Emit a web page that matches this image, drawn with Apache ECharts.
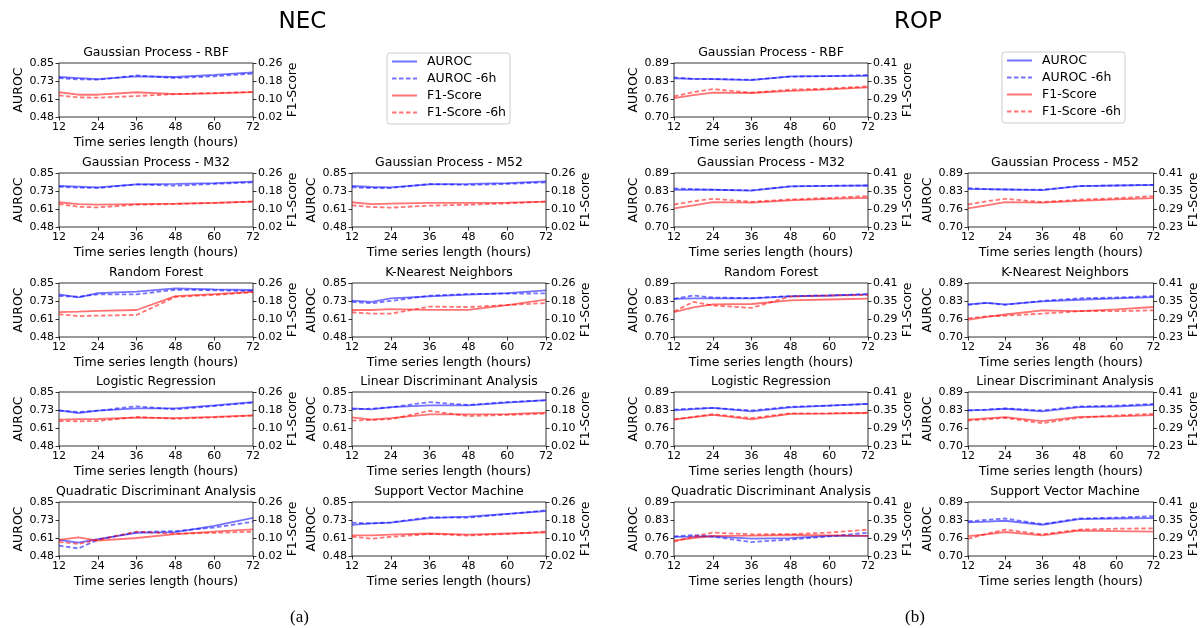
<!DOCTYPE html>
<html>
<head>
<meta charset="utf-8">
<script src="https://cdn.jsdelivr.net/npm/echarts@6/dist/echarts.min.js"></script>
<style>
  html, body { margin: 0; padding: 0; background: #fff; }
  #chart { width: 1201px; height: 628px; }
</style>
</head>
<body>
<div id="chart"></div>
<script>
// x values (hours) shared by every subplot
const hours = [12, 18, 24, 36, 48, 60, 72];

const models = [
  'Gaussian Process - RBF', 'Gaussian Process - M32', 'Gaussian Process - M52',
  'Random Forest', 'K-Nearest Neighbors', 'Logistic Regression',
  'Linear Discriminant Analysis', 'Quadratic Discriminant Analysis', 'Support Vector Machine'
];

const legendNames = ['AUROC', 'AUROC -6h', 'F1-Score', 'F1-Score -6h'];

// tick labels
const necAurocTicks = ['0.48', '0.61', '0.73', '0.85'];
const necF1Ticks = ['0.02', '0.10', '0.18', '0.26'];
const ropAurocTicks = ['0.70', '0.76', '0.83', '0.89'];
const ropF1Ticks = ['0.23', '0.29', '0.35', '0.41'];
const hourTicks = [12, 24, 36, 48, 60, 72];

// NEC, one row per model
const necAuroc = [
  [0.754, 0.747, 0.740, 0.759, 0.754, 0.768, 0.786],
  [0.761, 0.757, 0.752, 0.772, 0.775, 0.781, 0.791],
  [0.761, 0.754, 0.752, 0.772, 0.775, 0.781, 0.793],
  [0.772, 0.752, 0.781, 0.791, 0.813, 0.807, 0.802],
  [0.729, 0.720, 0.745, 0.759, 0.770, 0.781, 0.800],
  [0.724, 0.706, 0.722, 0.738, 0.738, 0.759, 0.781],
  [0.738, 0.731, 0.747, 0.759, 0.759, 0.777, 0.795],
  [0.591, 0.572, 0.596, 0.639, 0.644, 0.686, 0.741],
  [0.693, 0.703, 0.708, 0.739, 0.750, 0.769, 0.788]
];
const necAuroc6h = [
  [0.747, 0.738, 0.736, 0.765, 0.747, 0.759, 0.777],
  [0.756, 0.750, 0.747, 0.772, 0.763, 0.775, 0.786],
  [0.752, 0.747, 0.747, 0.775, 0.768, 0.775, 0.786],
  [0.761, 0.756, 0.772, 0.772, 0.804, 0.800, 0.795],
  [0.720, 0.711, 0.727, 0.763, 0.775, 0.777, 0.779],
  [0.722, 0.713, 0.722, 0.752, 0.731, 0.754, 0.777],
  [0.731, 0.736, 0.745, 0.781, 0.761, 0.781, 0.793],
  [0.551, 0.532, 0.591, 0.644, 0.651, 0.675, 0.715],
  [0.708, 0.703, 0.710, 0.746, 0.743, 0.767, 0.793]
];
const necF1 = [
  [0.130, 0.119, 0.119, 0.130, 0.122, 0.125, 0.131],
  [0.130, 0.122, 0.119, 0.122, 0.124, 0.127, 0.133],
  [0.130, 0.122, 0.124, 0.127, 0.127, 0.128, 0.133],
  [0.131, 0.133, 0.136, 0.140, 0.202, 0.211, 0.221],
  [0.140, 0.140, 0.144, 0.141, 0.141, 0.162, 0.186],
  [0.137, 0.139, 0.140, 0.146, 0.144, 0.149, 0.156],
  [0.147, 0.137, 0.144, 0.161, 0.161, 0.162, 0.168],
  [0.092, 0.103, 0.088, 0.100, 0.117, 0.128, 0.138],
  [0.112, 0.112, 0.115, 0.120, 0.115, 0.120, 0.125]
];
const necF16h = [
  [0.116, 0.107, 0.106, 0.113, 0.122, 0.127, 0.131],
  [0.122, 0.110, 0.107, 0.119, 0.122, 0.127, 0.133],
  [0.116, 0.109, 0.106, 0.115, 0.119, 0.125, 0.133],
  [0.121, 0.113, 0.115, 0.118, 0.198, 0.207, 0.219],
  [0.130, 0.124, 0.124, 0.155, 0.153, 0.162, 0.171],
  [0.131, 0.130, 0.131, 0.149, 0.141, 0.147, 0.155],
  [0.133, 0.136, 0.139, 0.176, 0.153, 0.158, 0.164],
  [0.082, 0.074, 0.092, 0.128, 0.119, 0.123, 0.128],
  [0.106, 0.097, 0.105, 0.118, 0.111, 0.118, 0.128]
];

// ROP, one row per model
const ropAuroc = [
  [0.836, 0.834, 0.833, 0.830, 0.843, 0.844, 0.845],
  [0.831, 0.831, 0.831, 0.828, 0.843, 0.845, 0.846],
  [0.833, 0.833, 0.832, 0.830, 0.844, 0.846, 0.848],
  [0.834, 0.836, 0.836, 0.836, 0.843, 0.846, 0.850],
  [0.815, 0.820, 0.815, 0.825, 0.831, 0.836, 0.840],
  [0.825, 0.830, 0.834, 0.822, 0.836, 0.842, 0.848],
  [0.825, 0.827, 0.831, 0.822, 0.837, 0.839, 0.845],
  [0.767, 0.768, 0.769, 0.761, 0.763, 0.771, 0.771],
  [0.818, 0.821, 0.824, 0.810, 0.830, 0.832, 0.833]
];
const ropAuroc6h = [
  [0.839, 0.834, 0.834, 0.831, 0.842, 0.844, 0.848],
  [0.836, 0.833, 0.831, 0.829, 0.843, 0.845, 0.846],
  [0.837, 0.833, 0.832, 0.831, 0.844, 0.846, 0.848],
  [0.834, 0.846, 0.839, 0.837, 0.844, 0.846, 0.851],
  [0.813, 0.820, 0.813, 0.827, 0.836, 0.839, 0.844],
  [0.828, 0.832, 0.834, 0.825, 0.838, 0.842, 0.848],
  [0.825, 0.828, 0.832, 0.825, 0.839, 0.842, 0.848],
  [0.769, 0.774, 0.768, 0.749, 0.758, 0.769, 0.782],
  [0.822, 0.827, 0.832, 0.812, 0.832, 0.835, 0.840]
];
const ropF1 = [
  [0.293, 0.303, 0.311, 0.310, 0.317, 0.322, 0.329],
  [0.292, 0.302, 0.313, 0.311, 0.319, 0.324, 0.327],
  [0.292, 0.302, 0.313, 0.311, 0.317, 0.322, 0.326],
  [0.313, 0.329, 0.339, 0.340, 0.352, 0.355, 0.358],
  [0.287, 0.297, 0.305, 0.319, 0.316, 0.322, 0.330],
  [0.318, 0.326, 0.334, 0.319, 0.337, 0.338, 0.340],
  [0.318, 0.322, 0.326, 0.313, 0.327, 0.329, 0.333],
  [0.281, 0.290, 0.297, 0.298, 0.300, 0.299, 0.297],
  [0.296, 0.302, 0.310, 0.299, 0.315, 0.313, 0.311]
];
const ropF16h = [
  [0.299, 0.313, 0.323, 0.311, 0.321, 0.325, 0.332],
  [0.305, 0.316, 0.324, 0.314, 0.322, 0.327, 0.333],
  [0.305, 0.316, 0.324, 0.313, 0.321, 0.326, 0.333],
  [0.315, 0.347, 0.335, 0.327, 0.365, 0.368, 0.370],
  [0.292, 0.299, 0.301, 0.308, 0.316, 0.316, 0.319],
  [0.319, 0.327, 0.336, 0.323, 0.339, 0.339, 0.341],
  [0.315, 0.319, 0.324, 0.306, 0.324, 0.332, 0.337],
  [0.278, 0.295, 0.308, 0.302, 0.303, 0.308, 0.318],
  [0.287, 0.304, 0.318, 0.302, 0.318, 0.321, 0.322]
];

const FONT = 'DejaVu Sans';
const BLUE = 'rgba(0,0,255,0.55)';
const RED = 'rgba(255,0,0,0.55)';
const DASH = [4.5, 2.5];

// layout
const plotW = 194, plotH = 54;
const rowTops = [63, 173, 283, 392, 502];
// row, col slot of each model (slot [0,1] holds the legend)
const slots = [[0, 0], [1, 0], [1, 1], [2, 0], [2, 1], [3, 0], [3, 1], [4, 0], [4, 1]];

const panels = [
  { title: 'NEC', tag: '(a)', cols: [59, 352], legend: [387, 53],
    auroc: necAuroc, auroc6h: necAuroc6h, f1: necF1, f16h: necF16h,
    aTicks: necAurocTicks, fTicks: necF1Ticks },
  { title: 'ROP', tag: '(b)', cols: [674, 968], legend: [1002, 52],
    auroc: ropAuroc, auroc6h: ropAuroc6h, f1: ropF1, f16h: ropF16h,
    aTicks: ropAurocTicks, fTicks: ropF1Ticks }
];

const grid = [], xAxis = [], yAxis = [], series = [], graphic = [], legend = [];

function yAx(gi, pos, ticks, name) {
  const min = +ticks[0], max = +ticks[ticks.length - 1];
  const step = (max - min) / (ticks.length - 1);
  return {
    type: 'value', gridIndex: gi, position: pos, min: min, max: max, interval: step,
    axisLine: { show: false },
    axisTick: { show: true, length: 3.5, lineStyle: { color: '#000', width: 0.8 } },
    axisLabel: { color: '#000', fontSize: 11, fontFamily: FONT, margin: 5,
      formatter: v => ticks[Math.round((v - min) / step)] },
    splitLine: { show: false },
    name: name, nameLocation: 'middle', nameRotate: 90, nameGap: 32,
    nameTextStyle: { color: '#000', fontSize: 12.5, fontFamily: FONT }
  };
}

function line(name, data, gi, yi, color, dashed) {
  return {
    name: name, type: 'line', xAxisIndex: gi, yAxisIndex: yi,
    data: hours.map((h, k) => [h, data[k]]),
    symbol: 'none', showSymbol: false,
    lineStyle: { color: color, width: 1.8, type: dashed ? DASH : 'solid' },
    itemStyle: { color: color },
    silent: true
  };
}

panels.forEach(p => {
  models.forEach((m, i) => {
    const [r, c] = slots[i];
    const left = p.cols[c], top = rowTops[r];
    const gi = grid.length;
    grid.push({ left: left, top: top, width: plotW, height: plotH, show: true,
      borderColor: '#000', borderWidth: 0.8, backgroundColor: 'transparent' });
    xAxis.push({
      type: 'value', gridIndex: gi, min: hourTicks[0], max: hourTicks[hourTicks.length - 1], interval: 12,
      axisLine: { show: false },
      axisTick: { show: true, length: 3.5, lineStyle: { color: '#000', width: 0.8 } },
      axisLabel: { color: '#000', fontSize: 11, fontFamily: FONT, margin: 5 },
      splitLine: { show: false },
      name: 'Time series length (hours)', nameLocation: 'middle', nameGap: 19,
      nameTextStyle: { color: '#000', fontSize: 12.5, fontFamily: FONT }
    });
    const yl = yAxis.length;
    yAxis.push(yAx(gi, 'left', p.aTicks, 'AUROC'));
    yAxis.push(yAx(gi, 'right', p.fTicks, 'F1-Score'));
    series.push(line('AUROC', p.auroc[i], gi, yl, BLUE, false));
    series.push(line('AUROC -6h', p.auroc6h[i], gi, yl, BLUE, true));
    series.push(line('F1-Score', p.f1[i], gi, yl + 1, RED, false));
    series.push(line('F1-Score -6h', p.f16h[i], gi, yl + 1, RED, true));
    graphic.push({ type: 'text', x: left + plotW / 2, y: top - 10,
      style: { text: m, fill: '#000', font: '12.5px "DejaVu Sans"', textAlign: 'center', textVerticalAlign: 'middle' } });
  });
  const mid = (p.cols[0] + p.cols[1] + plotW) / 2;
  graphic.push({ type: 'text', x: mid, y: 22,
    style: { text: p.title, fill: '#000', font: '23px "DejaVu Sans"', textAlign: 'center', textVerticalAlign: 'middle' } });
  graphic.push({ type: 'text', x: mid - 3, y: 618,
    style: { text: p.tag, fill: '#000', font: '17px "Liberation Serif"', textAlign: 'center', textVerticalAlign: 'middle' } });
  legend.push({
    orient: 'vertical', left: p.legend[0], top: p.legend[1],
    itemWidth: 25, itemHeight: 14, itemGap: 4,
    padding: [2, 4, 5, 4],
    itemStyle: { opacity: 0, borderWidth: 0 },
    borderColor: '#cccccc', borderWidth: 1, borderRadius: 3, backgroundColor: '#fff',
    textStyle: { color: '#000', fontSize: 12.5, fontFamily: FONT, padding: [0, 0, 0, 5] },
    data: legendNames
  });
});

const chart = echarts.init(document.getElementById('chart'), null, { renderer: 'canvas' });
chart.setOption({
  animation: false,
  backgroundColor: '#fff',
  grid: grid,
  xAxis: xAxis,
  yAxis: yAxis,
  legend: legend,
  series: series,
  graphic: graphic
});
</script>
</body>
</html>
